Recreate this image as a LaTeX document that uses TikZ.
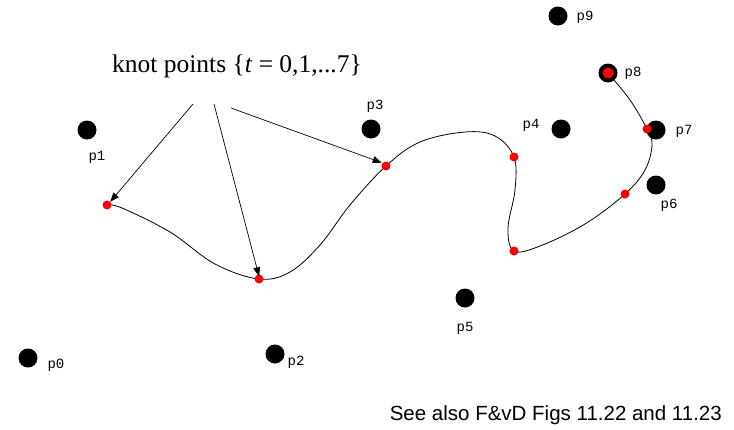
\documentclass[tikz,border=0pt]{standalone}
\usepackage{fontspec}
\setmainfont{Liberation Serif}
\newfontfamily\labelfont{Liberation Mono}
\newfontfamily\notefont{Liberation Sans}
\usetikzlibrary{arrows.meta}
\begin{document}
\begin{tikzpicture}[x=1pt,y=-1pt,
  ctrl/.style={circle,fill=black,inner sep=0pt,minimum size=19pt},
  knot/.style={circle,fill=red,inner sep=0pt,minimum size=9pt},
  plabel/.style={font=\labelfont\fontsize{14}{14}\selectfont,inner sep=0pt},
  pointer/.style={-{Triangle[length=9pt,width=7pt]},line width=0.7pt}]
\useasboundingbox (0,0) rectangle (734,429);
% control points
\node[ctrl] (p0) at (28,358) {};
\node[ctrl] (p1) at (87,130) {};
\node[ctrl] (p2) at (275,354) {};
\node[ctrl] (p3) at (371,129) {};
\node[ctrl] (p4) at (561,129) {};
\node[ctrl] (p5) at (465,298) {};
\node[ctrl] (p6) at (656,185) {};
\node[ctrl] (p7) at (656,130) {};
\node[ctrl] (p8) at (608,73) {};
\node[ctrl] (p9) at (558,16) {};
% labels
\node[plabel] (l0) at (56,365) {p0};
\node[plabel] (l1) at (97,157) {p1};
\node[plabel] (l2) at (296,362) {p2};
\node[plabel] (l3) at (375,106) {p3};
\node[plabel] (l4) at (531,125) {p4};
\node[plabel] (l5) at (465,328) {p5};
\node[plabel] (l6) at (669,205) {p6};
\node[plabel] (l7) at (684,131) {p7};
\node[plabel] (l8) at (633,73) {p8};
\node[plabel] (l9) at (585,17) {p9};
% curve
\draw[line width=0.8pt] plot[smooth,tension=0.6] coordinates {
  (107,205) (122,208) (170,232) (215,264) (259,279) (290,272) (320,245) (350,205) (386,166)
  (420,142) (465,132) (495,136) (514,157) (515,190) (508,228) (514,251)
  (540,246) (585,224) (625,194) (645,170) (652,145) (647,129) (630,100) (608,73)};
% knots
\node[knot] (k0) at (107,205) {};
\node[knot] (k1) at (259,279) {};
\node[knot] (k2) at (386,166) {};
\node[knot] (k3) at (514,157) {};
\node[knot] (k4) at (514,251) {};
\node[knot] (k5) at (625,194) {};
\node[knot] (k6) at (647,129) {};
\node[knot,minimum size=11pt] (k7) at (608,73) {};
% title and arrows
\node[font=\fontsize{25.5}{25.5}\selectfont,inner sep=0pt] (title) at (237,66) {knot points \{\textit{t} = 0,1,...7\}};
\coordinate (a1) at (193,104);
\coordinate (a2) at (214,104);
\coordinate (a3) at (231,108);
\draw[pointer] (a1) -- (k0.north east);
\draw[pointer] (a2) -- ([yshift=-2pt]k1.north);
\draw[pointer] (a3) -- ([xshift=-1pt]k2.north west);
\node[font=\notefont\fontsize{20.5}{20.5}\selectfont,anchor=base east,inner sep=0pt] (note) at (722,420) {See also F\&vD Figs 11.22 and 11.23};
\end{tikzpicture}
\end{document}
